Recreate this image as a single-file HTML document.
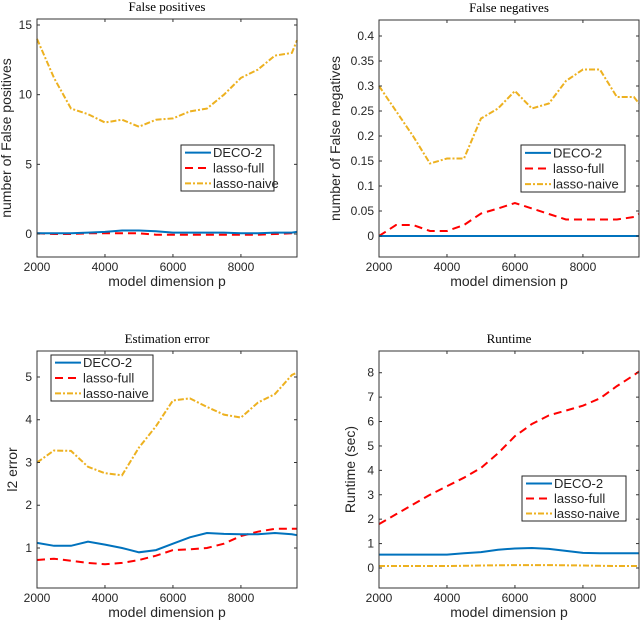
<!DOCTYPE html>
<html><head><meta charset="utf-8"><style>
body{margin:0;background:#fff}
svg{display:block}
text{font-family:"Liberation Sans",sans-serif;fill:#262626}
.ttl{font-family:"Liberation Serif",serif;font-size:13px;fill:#000}
</style></head><body>
<svg id="s" width="640" height="624" viewBox="0 0 640 624" xmlns="http://www.w3.org/2000/svg"></svg>
<script>
const xs = [2000,2500,3000,3500,4000,4500,5000,5500,6000,6500,7000,7500,8000,8500,9000,9500,9650];
const xTicks = [2000,4000,6000,8000];
const fpDeco  = [0.05,0.05,0.05,0.1,0.15,0.25,0.25,0.2,0.1,0.1,0.1,0.1,0.05,0.05,0.1,0.1,0.15];
const fpFull  = [0.05,0,0,0.05,0.05,0.05,0.05,-0.05,-0.05,-0.05,-0.05,-0.05,-0.05,-0.05,0,0.05,0.05];
const fpNaive = [14,11.2,9,8.6,8,8.2,7.7,8.2,8.3,8.8,9,10,11.2,11.8,12.8,13,13.9];
const fpTicks = [0,5,10,15];
const fnDeco  = [0,0,0,0,0,0,0,0,0,0,0,0,0,0,0,0,0];
const fnFull  = [0,0.022,0.022,0.01,0.01,0.022,0.045,0.055,0.066,0.055,0.044,0.033,0.033,0.033,0.033,0.038,0.044];
const fnNaive = [0.3,0.25,0.2,0.145,0.155,0.155,0.235,0.255,0.29,0.255,0.265,0.31,0.333,0.333,0.278,0.278,0.265];
const fnTicks = [0,0.05,0.1,0.15,0.2,0.25,0.3,0.35,0.4];
const fnTickLabels = ["0","0.05","0.1","0.15","0.2","0.25","0.3","0.35","0.4"];
const eeDeco  = [1.12,1.05,1.05,1.15,1.08,1.0,0.9,0.95,1.1,1.25,1.35,1.33,1.32,1.32,1.35,1.32,1.3];
const eeFull  = [0.72,0.75,0.7,0.65,0.62,0.65,0.72,0.82,0.95,0.97,1.0,1.1,1.28,1.38,1.45,1.45,1.45];
const eeNaive = [3,3.28,3.27,2.9,2.75,2.7,3.35,3.85,4.45,4.5,4.3,4.12,4.05,4.4,4.6,5.05,5.1];
const eeTicks = [1,2,3,4,5];
const rtDeco  = [0.55,0.55,0.55,0.55,0.55,0.6,0.65,0.75,0.8,0.82,0.78,0.7,0.62,0.6,0.6,0.6,0.6];
const rtFull  = [1.8,2.2,2.6,3.0,3.35,3.7,4.1,4.7,5.4,5.9,6.25,6.45,6.65,6.95,7.45,7.9,8.05];
const rtNaive = [0.08,0.08,0.08,0.08,0.08,0.09,0.1,0.11,0.12,0.12,0.12,0.11,0.1,0.09,0.08,0.08,0.08];
const rtTicks = [0,1,2,3,4,5,6,7,8];
const seriesNames = ["DECO-2","lasso-full","lasso-naive"];

const NS="http://www.w3.org/2000/svg";
const svg=document.getElementById('s');
function el(tag,attrs,parent){const e=document.createElementNS(NS,tag);for(const k in attrs)e.setAttribute(k,attrs[k]);(parent||svg).appendChild(e);return e;}
const styles=[{stroke:"#0072BD",dash:""},{stroke:"#FF0000",dash:"8,5"},{stroke:"#EDB120",dash:"6,2,2,2"}];

function panel(cfg){
  const g=el('g',{});
  
  
  const L=cfg.box[0],T=cfg.box[1],R=cfg.box[2],B=cfg.box[3];
  const xmin=2000,xmax=9650;
  const X=v=>L+(v-xmin)/(xmax-xmin)*(R-L);
  const Y=v=>B-(v-cfg.ymin)/(cfg.ymax-cfg.ymin)*(B-T);
  const t=el('text',{x:(L+R)/2,y:T-8,'text-anchor':'middle','class':'ttl'},g);t.textContent=cfg.title;
  
  
  const data=cfg.series;
  [2,1,0].forEach(i=>{
    let d='';data[i].forEach((v,j)=>{d+=(j?'L':'M')+X(xs[j]).toFixed(1)+','+Y(v).toFixed(1);});
    const p=el('path',{d:d,fill:'none',stroke:styles[i].stroke,'stroke-width':2,'stroke-dasharray':styles[i].dash},g);
    
    
  });
  const bx=el('rect',{x:L,y:T,width:R-L,height:B-T,fill:'none',stroke:'#333','stroke-width':1},g);
  
  
  xTicks.forEach(v=>{
    const x=X(v);
    el('line',{x1:x,y1:B,x2:x,y2:B-3,stroke:'#333'},g);
    el('line',{x1:x,y1:T,x2:x,y2:T+3,stroke:'#333'},g);
    const tx=el('text',{x:x,y:B+14,'text-anchor':'middle','font-size':'12'},g);tx.textContent=v;
    
    
  });
  cfg.yTicks.forEach((v,k)=>{
    const y=Y(v);
    el('line',{x1:L,y1:y,x2:L+3,y2:y,stroke:'#333'},g);
    el('line',{x1:R,y1:y,x2:R-3,y2:y,stroke:'#333'},g);
    const ty=el('text',{x:L-5,y:y+4,'text-anchor':'end','font-size':'12'},g);ty.textContent=cfg.yLabels?cfg.yLabels[k]:v;
    
    
  });
  const xl=el('text',{x:(L+R)/2,y:B+29,'text-anchor':'middle','font-size':'14'},g);xl.textContent='model dimension p';
  
  
  const yl=el('text',{x:0,y:0,'text-anchor':'middle','font-size':'14',transform:`translate(${cfg.ylx},${(T+B)/2}) rotate(-90)`},g);yl.textContent=cfg.ylabel;
  
  
  const [lx,ly,lr,lb]=cfg.legend;
  const lg=el('g',{},g);
  
  
  el('rect',{x:lx,y:ly,width:lr-lx,height:lb-ly,fill:'#fff',stroke:'#262626'},lg);
  const h=(lb-ly)/3;
  seriesNames.forEach((n,i)=>{
    const cy=ly+h*(i+0.5);
    el('line',{x1:lx+4,y1:cy,x2:lx+30,y2:cy,stroke:styles[i].stroke,'stroke-width':2,'stroke-dasharray':styles[i].dash},lg);
    const lt=el('text',{x:lx+32,y:cy+4.5,'font-size':'13'},lg);lt.textContent=n;
    
    
  });
}
panel({name:'false-positives-chart',title:'False positives',box:[37,19,297,257],ymin:-1.65,ymax:15.43,yTicks:fpTicks,series:[fpDeco,fpFull,fpNaive],ylabel:'number of False positives',ylx:11,legend:[181,145,274,191]});
panel({name:'false-negatives-chart',title:'False negatives',box:[379,20,639,257],ymin:-0.042,ymax:0.432,yTicks:fnTicks,yLabels:fnTickLabels,series:[fnDeco,fnFull,fnNaive],ylabel:'number of False negatives',ylx:340,legend:[521,145,625,192]});
panel({name:'estimation-error-chart',title:'Estimation error',box:[37,351,297,588],ymin:0.064,ymax:5.608,yTicks:eeTicks,series:[eeDeco,eeFull,eeNaive],ylabel:'l2 error',ylx:17,legend:[51,355,153,401]});
panel({name:'runtime-chart',title:'Runtime',box:[379,351,639,588],ymin:-0.82,ymax:8.89,yTicks:rtTicks,series:[rtDeco,rtFull,rtNaive],ylabel:'Runtime (sec)',ylx:355,legend:[522,476,626,521]});
</script>
</body></html>
